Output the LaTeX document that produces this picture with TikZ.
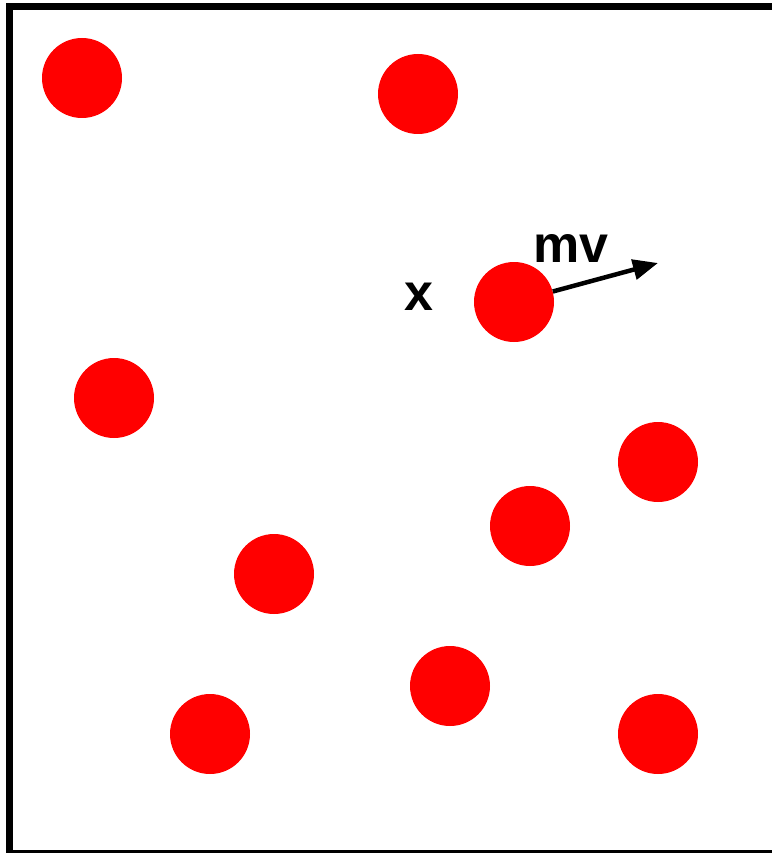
\documentclass[tikz,border=0pt]{standalone}
\usepackage{fontspec}
\setmainfont{Liberation Sans}
\usetikzlibrary{arrows.meta}
\begin{document}
\begin{tikzpicture}[x=1pt,y=-1pt,
  ball/.style={circle,fill=red,minimum size=80pt,inner sep=0pt,draw=none},
  lbl/.style={font=\fontsize{52}{58}\selectfont\bfseries,inner sep=0pt,anchor=base}]
\useasboundingbox (0,0) rectangle (771,853);
\draw[line width=7pt] (9.5,6.5) rectangle (776,853.5);
\node[ball] (c1) at (82,78) {};
\node[ball] (c2) at (418,94) {};
\node[ball] (c3) at (514,302) {};
\node[ball] (c4) at (114,398) {};
\node[ball] (c5) at (658,462) {};
\node[ball] (c6) at (530,526) {};
\node[ball] (c7) at (274,574) {};
\node[ball] (c8) at (450,686) {};
\node[ball] (c9) at (210,734) {};
\node[ball] (c10) at (658,734) {};
\coordinate (tip) at (658,263);
\draw[line width=4.5pt,-{Triangle[length=25pt,width=20pt]}] (c3) -- (tip);
\node[lbl] (x) at (419,310) {x};
\node[lbl] (mv) at (571,262) {mv};
\end{tikzpicture}
\end{document}
